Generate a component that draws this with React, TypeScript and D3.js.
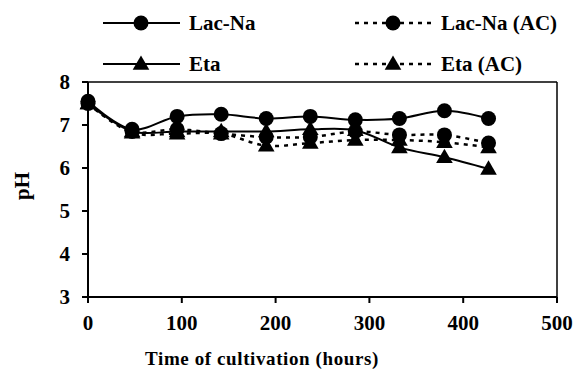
import React from "react";
import * as d3 from "d3";

const hours = [0, 47, 95, 142, 190, 237, 285, 332, 380, 427];
const lacNa = [7.55, 6.9, 7.2, 7.25, 7.15, 7.2, 7.12, 7.15, 7.33, 7.15];
const lacNaAC = [7.5, 6.85, 6.9, 6.8, 6.72, 6.72, 6.85, 6.77, 6.77, 6.58];
const eta = [7.5, 6.85, 6.85, 6.85, 6.85, 6.9, 6.88, 6.48, 6.25, 5.98];
const etaAC = [7.5, 6.82, 6.8, 6.8, 6.52, 6.58, 6.65, 6.65, 6.6, 6.48];
const xTicks = [0, 100, 200, 300, 400, 500];
const yTicks = [3, 4, 5, 6, 7, 8];

const seriesNames = ["Lac-Na", "Lac-Na (AC)", "Eta", "Eta (AC)"];
const seriesValues = [lacNa, lacNaAC, eta, etaAC];
const seriesMarker = ["circle", "circle", "triangle", "triangle"];
const seriesDashed = [false, true, false, true];

const W = 573;
const H = 378;
const FONT = "'Liberation Serif', 'Times New Roman', serif";

export default function App() {
  const x = d3.scaleLinear().domain([0, 500]).range([88, 557]);
  const y = d3.scaleLinear().domain([3, 8]).range([297, 82]);
  const line = d3
    .line<number>()
    .x((_, i) => x(hours[i]))
    .y((d) => y(d))
    .curve(d3.curveCatmullRom.alpha(0.5));
  const tri = d3.symbol().type(d3.symbolTriangle).size(120)() as string;

  const marker = (kind: string, cx: number, cy: number, key: string) =>
    kind === "circle" ? (
      <circle key={key} cx={cx} cy={cy} r={7.5} fill="#000" />
    ) : (
      <path key={key} d={tri} transform={`translate(${cx},${cy + 1})`} fill="#000" />
    );

  const legendPos = [
    { x0: 103, y: 23 },
    { x0: 355, y: 23 },
    { x0: 103, y: 64 },
    { x0: 355, y: 64 },
  ];

  return (
    <svg width={W} height={H} style={{ position: "absolute", left: 0, top: 0, background: "#fff" }}>
      <rect x={0} y={0} width={W} height={H} fill="#fff" />
      {/* frame */}
      <line x1={x(0)} x2={x(500)} y1={y(8)} y2={y(8)} stroke="#000" strokeWidth={1.5} />
      <line x1={x(500)} x2={x(500)} y1={y(8)} y2={y(3)} stroke="#000" strokeWidth={1.5} />
      <line x1={x(0)} x2={x(500)} y1={y(3)} y2={y(3)} stroke="#000" strokeWidth={2} />
      <line x1={x(0)} x2={x(0)} y1={y(8)} y2={y(3)} stroke="#000" strokeWidth={2} />
      {xTicks.map((t) => (
        <g key={"xt" + t}>
          <line x1={x(t)} x2={x(t)} y1={y(3)} y2={y(3) + 6} stroke="#000" strokeWidth={2} />
          <text
            x={x(t)}
            y={y(3) + 33}
            textAnchor="middle"
            fontFamily={FONT}
            fontWeight="bold"
            fontSize={21}
          >
            {t}
          </text>
        </g>
      ))}
      {yTicks.map((t) => (
        <g key={"yt" + t}>
          <line x1={x(0) - 6} x2={x(0)} y1={y(t)} y2={y(t)} stroke="#000" strokeWidth={2} />
          <text
            x={x(0) - 18}
            y={y(t) + 7}
            textAnchor="end"
            fontFamily={FONT}
            fontWeight="bold"
            fontSize={21}
          >
            {t}
          </text>
        </g>
      ))}
      <text
        x={262}
        y={365}
        textAnchor="middle"
        fontFamily={FONT}
        fontWeight="bold"
        fontSize={19}
        letterSpacing={0.6}
      >
        Time of cultivation (hours)
      </text>
      <text
        transform="translate(29,186) rotate(-90)"
        textAnchor="middle"
        fontFamily={FONT}
        fontWeight="bold"
        fontSize={21}
      >
        pH
      </text>
      {/* series */}
      {seriesValues.map((vals, si) => (
        <g key={"s" + si}>
          <path
            d={line(vals) as string}
            fill="none"
            stroke="#000"
            strokeWidth={seriesDashed[si] ? 2.5 : 2}
            strokeDasharray={seriesDashed[si] ? "4,5" : undefined}
          />
          {vals.map((v, i) => marker(seriesMarker[si], x(hours[i]), y(v), `m${si}-${i}`))}
        </g>
      ))}
      {/* legend */}
      {seriesNames.map((name, si) => {
        const p = legendPos[si];
        return (
          <g key={"lg" + si}>
            <line
              x1={p.x0}
              x2={p.x0 + 77}
              y1={p.y}
              y2={p.y}
              stroke="#000"
              strokeWidth={seriesDashed[si] ? 2.5 : 2}
              strokeDasharray={seriesDashed[si] ? "4,5" : undefined}
            />
            {marker(seriesMarker[si], p.x0 + 38, p.y, "lm" + si)}
            <text
              x={p.x0 + 86}
              y={p.y + 7}
              fontFamily={FONT}
              fontWeight="bold"
              fontSize={21}
            >
              {name}
            </text>
          </g>
        );
      })}
    </svg>
  );
}
